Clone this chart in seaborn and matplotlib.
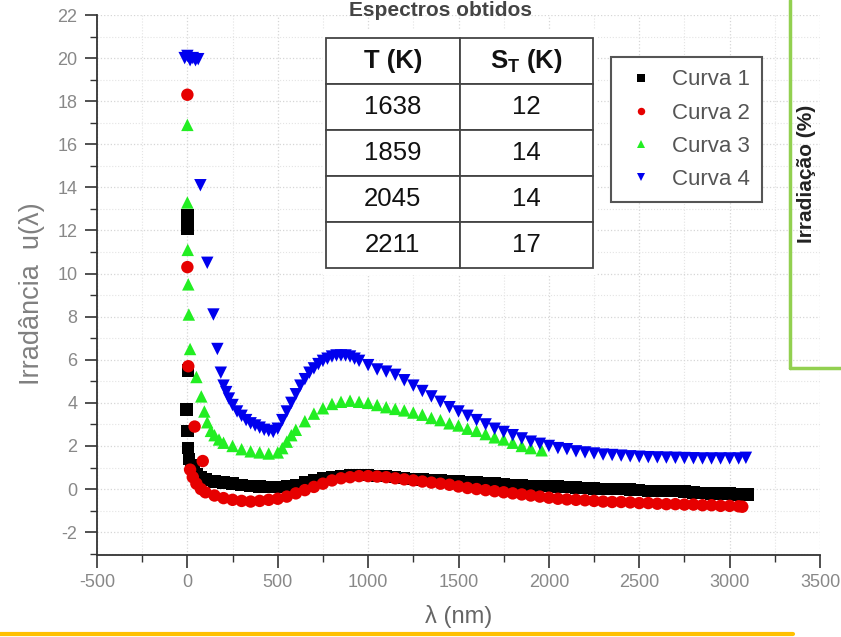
import matplotlib
matplotlib.use("Agg")
import matplotlib.pyplot as plt
from matplotlib.lines import Line2D
from matplotlib.ticker import MultipleLocator
import pandas as pd
import seaborn as sns

# ---------------- data ----------------
curve_names = ["Curva 1", "Curva 2", "Curva 3", "Curva 4"]

c1_x = [0, 0, 0, 2, -5, 0, 3, 10, 20, 35,
        50, 75, 100, 150, 200, 250, 300, 350, 400, 450,
        500, 550, 600, 650, 700, 750, 800, 850, 900, 950,
        1000, 1050, 1100, 1150, 1200, 1250, 1300, 1350, 1400, 1450,
        1500, 1550, 1600, 1650, 1700, 1750, 1800, 1850, 1900, 1950,
        2000, 2050, 2100, 2150, 2200, 2250, 2300, 2350, 2400, 2450,
        2500, 2550, 2600, 2650, 2700, 2750, 2800, 2850, 2900, 2950,
        3000, 3050, 3100]
c1_y = [12.7, 12.4, 12.1, 5.5, 3.7, 2.7, 1.9, 1.4, 1.1, 0.9,
        0.7, 0.55, 0.45, 0.35, 0.3, 0.25, 0.2, 0.15, 0.12, 0.1,
        0.1, 0.15, 0.2, 0.3, 0.4, 0.5, 0.55, 0.6, 0.65, 0.65,
        0.65, 0.6, 0.6, 0.55, 0.5, 0.48, 0.45, 0.42, 0.4, 0.38,
        0.35, 0.32, 0.3, 0.28, 0.25, 0.22, 0.2, 0.18, 0.15, 0.15,
        0.15, 0.12, 0.1, 0.08, 0.05, 0.02, 0.0, 0.0, 0.0, -0.02,
        -0.05, -0.08, -0.1, -0.1, -0.1, -0.12, -0.15, -0.18, -0.2, -0.2,
        -0.2, -0.25, -0.25]

c2_x = [0, 0, 5, 40, 85, 15, 30, 50, 75, 100,
        150, 200, 250, 300, 350, 400, 450, 500, 550, 600,
        650, 700, 750, 800, 850, 900, 950, 1000, 1050, 1100,
        1150, 1200, 1250, 1300, 1350, 1400, 1450, 1500, 1550, 1600,
        1650, 1700, 1750, 1800, 1850, 1900, 1950, 2000, 2050, 2100,
        2150, 2200, 2250, 2300, 2350, 2400, 2450, 2500, 2550, 2600,
        2650, 2700, 2750, 2800, 2850, 2900, 2950, 3000, 3050, 3070]
c2_y = [18.3, 10.3, 5.7, 2.9, 1.3, 0.9, 0.55, 0.25, 0.0, -0.15,
        -0.3, -0.42, -0.5, -0.55, -0.58, -0.55, -0.5, -0.45, -0.35, -0.2,
        -0.05, 0.1, 0.25, 0.4, 0.5, 0.55, 0.6, 0.6, 0.58, 0.55,
        0.5, 0.45, 0.4, 0.35, 0.3, 0.25, 0.2, 0.12, 0.05, 0.0,
        -0.05, -0.1, -0.15, -0.2, -0.25, -0.3, -0.35, -0.4, -0.45, -0.48,
        -0.5, -0.52, -0.55, -0.58, -0.6, -0.6, -0.62, -0.65, -0.65, -0.68,
        -0.7, -0.7, -0.72, -0.72, -0.75, -0.75, -0.78, -0.78, -0.8, -0.82]

c3_x = [0, 0, 2, 5, 8, 15, 50, 77, 94, 110,
        130, 150, 175, 200, 250, 300, 350, 400, 450, 500,
        525, 550, 575, 600, 650, 700, 750, 800, 850, 900,
        950, 1000, 1050, 1100, 1150, 1200, 1250, 1300, 1350, 1400,
        1450, 1500, 1550, 1600, 1650, 1700, 1750, 1800, 1850, 1900,
        1960]
c3_y = [16.9, 13.3, 11.1, 9.5, 8.1, 6.5, 5.2, 4.3, 3.6, 3.1,
        2.7, 2.5, 2.3, 2.15, 2.0, 1.85, 1.75, 1.7, 1.65, 1.7,
        1.9, 2.2, 2.5, 2.75, 3.15, 3.5, 3.75, 3.95, 4.05, 4.1,
        4.05, 4.0, 3.9, 3.8, 3.72, 3.65, 3.55, 3.45, 3.3, 3.2,
        3.05, 2.95, 2.8, 2.7, 2.55, 2.4, 2.3, 2.15, 2.0, 1.9,
        1.8]

c4_x = [-15, 0, 15, 30, 45, 60,
        72, 110, 144, 166, 185, 200, 215, 230, 250, 275,
        300, 325, 350, 375, 400, 425, 450, 475, 500, 525,
        550, 575, 600, 625, 650, 675, 700, 725, 750, 775,
        800, 825, 850, 875, 900, 925, 950,
        1000, 1050, 1100, 1150, 1200, 1250, 1300, 1350, 1400, 1450,
        1500, 1550, 1600, 1650, 1700, 1750, 1800, 1850, 1900, 1950,
        2000, 2050, 2100, 2150, 2200, 2250, 2300, 2350, 2400, 2450,
        2500, 2550, 2600, 2650, 2700, 2750, 2800, 2850, 2900, 2950,
        3000, 3050, 3090]
c4_y = [20.0, 20.1, 19.9, 20.0, 19.9, 19.95,
        14.1, 10.5, 8.1, 6.5, 5.4, 4.8, 4.5, 4.2, 3.9, 3.6,
        3.4, 3.2, 3.05, 2.95, 2.85, 2.75, 2.7, 2.65, 2.8, 3.2,
        3.6, 4.0, 4.4, 4.8, 5.1, 5.4, 5.6, 5.8, 5.95, 6.05,
        6.15, 6.2, 6.2, 6.2, 6.15, 6.05, 5.95,
        5.75, 5.55, 5.45, 5.3, 5.05, 4.8, 4.55, 4.3, 4.05, 3.8,
        3.6, 3.4, 3.2, 3.0, 2.8, 2.65, 2.5, 2.35, 2.2, 2.1,
        2.0, 1.9, 1.85, 1.75, 1.7, 1.65, 1.6, 1.58, 1.55, 1.52,
        1.5, 1.48, 1.47, 1.46, 1.45, 1.44, 1.43, 1.42, 1.42, 1.42,
        1.42, 1.42, 1.45]

table_header = ["T (K)", r"$\mathbf{S_T}$ (K)"]
table_T = ["1638", "1859", "2045", "2211"]
table_ST = ["12", "14", "14", "17"]

curve_colors = ["#000000", "#e60000", "#22ee22", "#0000ee"]
curve_markers = ["s", "o", "^", "v"]

# ---------------- style ----------------
sns.set_style("ticks")
plt.rcParams["font.family"] = ["Liberation Sans", "DejaVu Sans"]
plt.rcParams["mathtext.fontset"] = "custom"
plt.rcParams["mathtext.rm"] = "Liberation Sans"
plt.rcParams["mathtext.bf"] = "Liberation Sans:bold"
plt.rcParams["axes.unicode_minus"] = False

frames = []
for name, xs, ys in zip(curve_names, [c1_x, c2_x, c3_x, c4_x],
                        [c1_y, c2_y, c3_y, c4_y]):
    frames.append(pd.DataFrame({"lam": xs, "u": ys, "curva": name}))
df = pd.concat(frames, ignore_index=True)

W, H = 841, 637
fig = plt.figure(figsize=(W / 100, H / 100), dpi=100)
fig.patch.set_facecolor("white")

ax = fig.add_axes([97 / W, 1 - 555 / H, 723 / W, 540 / H])
sns.scatterplot(data=df, x="lam", y="u", hue="curva", style="curva",
                palette=dict(zip(curve_names, curve_colors)),
                markers=dict(zip(curve_names, curve_markers)),
                s=80, linewidth=0, ax=ax, legend=True)

ax.set_xlim(-500, 3500)
ax.set_ylim(-3.06, 22)
ax.xaxis.set_major_locator(MultipleLocator(500))
ax.xaxis.set_minor_locator(MultipleLocator(250))
ax.yaxis.set_major_locator(MultipleLocator(2))
ax.yaxis.set_minor_locator(MultipleLocator(1))
ax.grid(which="major", color="#d6d6d6", linestyle=":", linewidth=0.9)
ax.grid(which="minor", color="#e4e4e4", linestyle=":", linewidth=0.8)
ax.set_axisbelow(True)
for side in ("top", "right"):
    ax.spines[side].set_visible(False)
for side in ("left", "bottom"):
    ax.spines[side].set_color("#333333")
    ax.spines[side].set_linewidth(1.3)
ax.tick_params(which="major", length=9, width=1.2, color="#333333",
               labelsize=13, labelcolor="#888888", pad=5)
ax.tick_params(which="minor", length=5, width=1.0, color="#333333")

ax.set_xlabel("λ (nm)", fontsize=17, color="#666666", labelpad=10)
ax.set_ylabel("Irradância  u(λ)", fontsize=19.5, color="#808080")
ax.yaxis.set_label_coords(-0.072, 0.483)

sns.move_legend(ax, "upper left", bbox_to_anchor=(0.711, 0.922), title=None,
                frameon=True, fancybox=False, fontsize=16, labelspacing=0.55,
                handlelength=1.6, handletextpad=0.6, borderpad=0.55,
                borderaxespad=0, markerscale=0.6, framealpha=1)
leg = ax.get_legend()
leg.get_frame().set_edgecolor("#555555")
leg.get_frame().set_linewidth(1.5)
for t in leg.get_texts():
    t.set_color("#555555")

# title at the very top edge
fig.text(441 / W, 1 - 1 / H, "Espectros obtidos", ha="center", va="top",
         fontsize=15, fontweight="bold", color="#444444")

# ---------------- table ----------------
tax = fig.add_axes([323 / W, 1 - 275 / H, 274 / W, 245 / H], zorder=5)
tax.set_facecolor("white")
tax.set_xticks([])
tax.set_yticks([])
for sp in tax.spines.values():
    sp.set_visible(False)
tbl = tax.table(cellText=[[a, b] for a, b in zip(table_T, table_ST)],
                colLabels=table_header, cellLoc="center",
                bbox=[3 / 274, 7 / 245, 267 / 274, 230 / 245])
tbl.auto_set_font_size(False)
for (r, c), cell in tbl.get_celld().items():
    cell.set_edgecolor("#444444")
    cell.set_linewidth(1.3)
    cell.set_facecolor("white")
    cell.get_text().set_fontsize(18.5)
    cell.get_text().set_color("#111111")
    if r == 0:
        cell.get_text().set_fontweight("bold")

# ---------------- surrounding frame lines ----------------
green = "#92d050"
fig.add_artist(Line2D([790 / W, 790 / W], [1.0, 1 - 368 / H],
                      transform=fig.transFigure, color=green, lw=2.5))
fig.add_artist(Line2D([790 / W, 1.0], [1 - 368 / H, 1 - 368 / H],
                      transform=fig.transFigure, color=green, lw=2.5))
fig.text(806 / W, 1 - 174 / H, "Irradiação (%)", rotation=90, ha="center",
         va="center", fontsize=15, fontweight="bold", color="#222222")
fig.add_artist(Line2D([0.0, 793 / W], [1 - 634 / H, 1 - 634 / H],
                      transform=fig.transFigure, color="#ffc000", lw=3))

fig.savefig("out.png", dpi=100, facecolor="white")
